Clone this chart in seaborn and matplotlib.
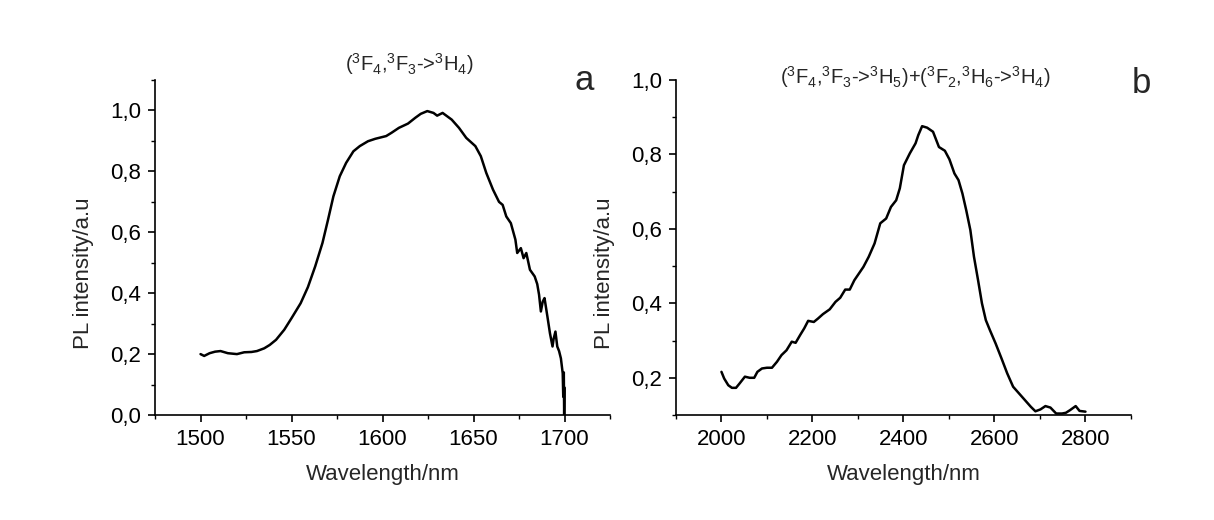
import matplotlib
matplotlib.use("Agg")
import matplotlib.pyplot as plt
import seaborn as sns
from matplotlib.ticker import MultipleLocator, FuncFormatter

# ---------------------------------------------------------------
# Data
# ---------------------------------------------------------------
wl_a = [1500, 1502, 1505, 1508, 1511, 1515, 1520, 1524, 1528, 1531, 1535,
        1538, 1541.5, 1546, 1550, 1555, 1559, 1563, 1567, 1570, 1573,
        1576.5, 1580, 1584, 1587.5, 1592, 1596, 1602, 1605, 1609, 1614,
        1618, 1621, 1624.6, 1628, 1630, 1633, 1638, 1642, 1646, 1651,
        1654, 1657, 1660.7, 1664, 1666, 1668, 1670.5, 1673, 1674, 1676,
        1677.5, 1679, 1681, 1683.6, 1685, 1686, 1687, 1688, 1689, 1690.6,
        1692, 1693.4, 1694, 1695, 1696, 1697, 1698, 1699, 1699.3, 1699.6,
        1699.8, 1700]
int_a = [0.200, 0.194, 0.203, 0.208, 0.210, 0.203, 0.200, 0.206, 0.207,
         0.210, 0.219, 0.230, 0.247, 0.280, 0.318, 0.367, 0.420, 0.488,
         0.565, 0.640, 0.718, 0.784, 0.828, 0.866, 0.883, 0.899, 0.907,
         0.916, 0.927, 0.943, 0.957, 0.976, 0.989, 0.998, 0.992, 0.983,
         0.992, 0.970, 0.943, 0.910, 0.883, 0.850, 0.795, 0.740, 0.700,
         0.690, 0.652, 0.630, 0.576, 0.532, 0.548, 0.515, 0.532, 0.477,
         0.455, 0.430, 0.395, 0.340, 0.372, 0.384, 0.323, 0.268, 0.225,
         0.250, 0.274, 0.225, 0.210, 0.186, 0.137, 0.060, 0.140, 0.000,
         0.090]

wl_b = [2000, 2006, 2015, 2023, 2032, 2040, 2051.5, 2062, 2072, 2079, 2089,
        2100, 2111, 2122, 2132, 2143, 2154.5, 2163, 2173, 2182, 2190.5,
        2203, 2212, 2223, 2238, 2250.6, 2261, 2272, 2282, 2292, 2302, 2312,
        2323.6, 2336.5, 2349, 2362, 2372.5, 2384, 2392, 2401, 2414, 2426.6,
        2432.6, 2441, 2452, 2465, 2478, 2491, 2501, 2512, 2521, 2529.6,
        2538, 2547, 2555, 2564, 2572.5, 2581, 2590, 2602.6, 2615.5, 2628,
        2641, 2654, 2667, 2680, 2690, 2701, 2712, 2723, 2735.6, 2748.5,
        2757, 2766, 2778.5, 2787, 2800]
int_b = [0.216, 0.198, 0.180, 0.173, 0.173, 0.185, 0.203, 0.200, 0.200,
         0.216, 0.225, 0.227, 0.227, 0.243, 0.261, 0.274, 0.297, 0.294,
         0.315, 0.333, 0.353, 0.350, 0.359, 0.371, 0.384, 0.404, 0.415,
         0.437, 0.437, 0.462, 0.480, 0.498, 0.525, 0.561, 0.615, 0.628,
         0.659, 0.677, 0.709, 0.771, 0.803, 0.830, 0.852, 0.876, 0.872,
         0.861, 0.820, 0.810, 0.787, 0.749, 0.731, 0.695, 0.650, 0.597,
         0.525, 0.462, 0.400, 0.355, 0.328, 0.292, 0.252, 0.212, 0.176,
         0.158, 0.140, 0.122, 0.110, 0.115, 0.124, 0.120, 0.104, 0.104,
         0.106, 0.113, 0.124, 0.111, 0.109]

title_a = r"($^3$F$_4$,$^3$F$_3$->$^3$H$_4$)"
title_b = r"($^3$F$_4$,$^3$F$_3$->$^3$H$_5$)+($^3$F$_2$,$^3$H$_6$->$^3$H$_4$)"

sns.set_style("ticks")
plt.rcParams["font.family"] = ["Liberation Sans", "DejaVu Sans"]
plt.rcParams["mathtext.fontset"] = "custom"
plt.rcParams["mathtext.rm"] = "Liberation Sans"
plt.rcParams["mathtext.it"] = "Liberation Sans:italic"

comma = FuncFormatter(lambda v, pos: f"{v:.1f}".replace(".", ","))

fig = plt.figure(figsize=(12.14, 5.2), dpi=100)
ax_a = fig.add_axes([0.1277, 0.2019, 0.3748, 0.6442])
ax_b = fig.add_axes([0.5568, 0.2019, 0.3748, 0.6442])


def style_axis(ax):
    for side in ["top", "right"]:
        ax.spines[side].set_visible(False)
    for side in ["left", "bottom"]:
        ax.spines[side].set_linewidth(1.2)
        ax.spines[side].set_color("black")
    ax.tick_params(which="major", direction="out", length=5, width=1.2,
                   labelsize=16, colors="black", pad=5)
    ax.tick_params(which="minor", direction="out", length=3, width=1.0,
                   colors="black")
    ax.yaxis.set_major_formatter(comma)
    ax.set_xlabel("Wavelength/nm", fontsize=16)
    ax.set_ylabel("PL intensity/a.u", fontsize=16)
    ax.xaxis.set_label_coords(0.5, -0.145)
    ax.yaxis.set_label_coords(-0.134, 0.424)


# panel a
sns.lineplot(x=wl_a, y=int_a, ax=ax_a, color="black", linewidth=1.8,
             sort=False, estimator=None)
ax_a.set_xlim(1475, 1725)
ax_a.set_ylim(0, 1.1)
ax_a.xaxis.set_major_locator(MultipleLocator(50))
ax_a.xaxis.set_minor_locator(MultipleLocator(25))
ax_a.yaxis.set_major_locator(MultipleLocator(0.2))
ax_a.yaxis.set_minor_locator(MultipleLocator(0.1))
style_axis(ax_a)
ax_a.text(0.558, 1.048, title_a, transform=ax_a.transAxes, ha="center",
          va="center", fontsize=14.5)
ax_a.text(0.943, 0.970, "a", transform=ax_a.transAxes, ha="center",
          va="baseline", fontsize=25)

# panel b
sns.lineplot(x=wl_b, y=int_b, ax=ax_b, color="black", linewidth=1.8,
             sort=False, estimator=None)
ax_b.set_xlim(1900, 2900)
ax_b.set_ylim(0.1, 1.0)
ax_b.xaxis.set_major_locator(MultipleLocator(200))
ax_b.xaxis.set_minor_locator(MultipleLocator(100))
ax_b.yaxis.set_major_locator(MultipleLocator(0.2))
ax_b.yaxis.set_minor_locator(MultipleLocator(0.1))
ax_b.set_yticks([0.2, 0.4, 0.6, 0.8, 1.0])
style_axis(ax_b)
ax_b.text(0.527, 1.009, title_b, transform=ax_b.transAxes, ha="center",
          va="center", fontsize=14.5)
ax_b.text(1.022, 0.961, "b", transform=ax_b.transAxes, ha="center",
          va="baseline", fontsize=25)

fig.savefig("out.png", dpi=100, facecolor="white")
